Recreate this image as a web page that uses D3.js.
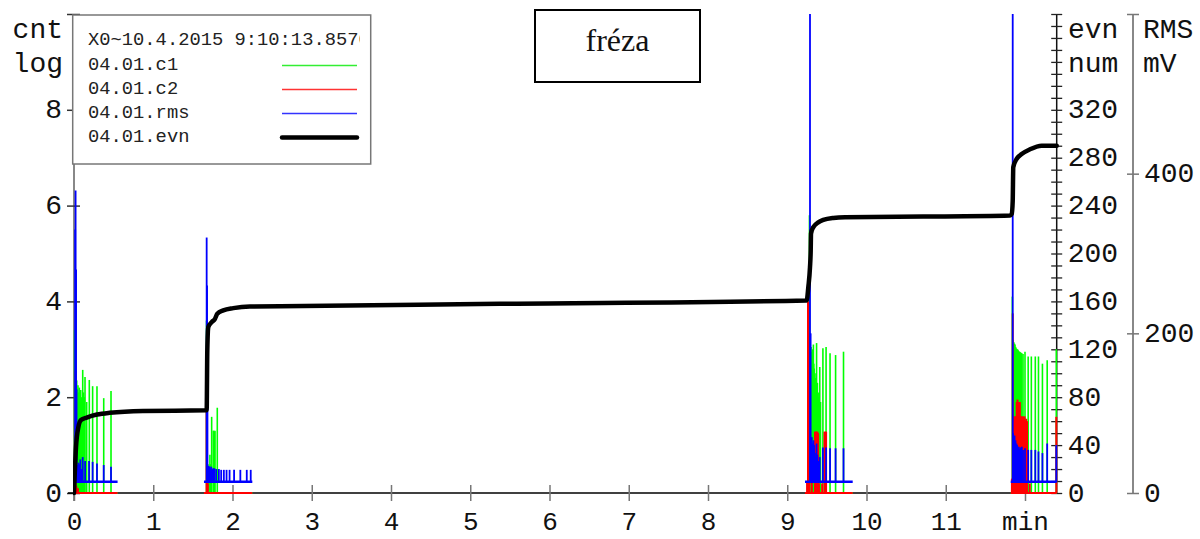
<!DOCTYPE html>
<html>
<head>
<meta charset="utf-8">
<script src="https://cdn.jsdelivr.net/npm/d3@7"></script>
<style>
  body { margin: 0; background: #fff; }
  svg { display: block; }
</style>
</head>
<body>
<svg id="chart" width="1200" height="539"></svg>
<script>
// ---- axis ticks ----
const timeTicks = [0, 1, 2, 3, 4, 5, 6, 7, 8, 9, 10, 11, 12];
const timeTickLabels = ["0", "1", "2", "3", "4", "5", "6", "7", "8", "9", "10", "11", "min"];
const cntTicks = [0, 2, 4, 6, 8, 10];
const evnTicks = [0, 40, 80, 120, 160, 200, 240, 280, 320];
const rmsTicks = [0, 200, 400, 600];

// ---- legend ----
const legendHeader = "X0~10.4.2015 9:10:13.8570";
const seriesNames = ["04.01.c1", "04.01.c2", "04.01.rms", "04.01.evn"];
const titleText = "fréza";

// ---- recording windows [start, end] in minutes ----
const bursts = [[0, 0.55], [1.64, 2.25], [9.224, 9.826], [11.82, 12.4]];
const rmsFloor = 14; // mV between events

// ---- c1 event counts (log) : [minute, value] ----
const c1Spikes = [
  [0.008, 3.4], [0.018, 2.3], [0.026, 2.2], [0.034, 2.35], [0.042, 2.15], [0.05, 2.25],
  [0.058, 2.1], [0.067, 2.2], [0.076, 2.05], [0.085, 2.15], [0.095, 2.0], [0.11, 2.57],
  [0.12, 2.1], [0.13, 2.0], [0.139, 2.42], [0.16, 1.9], [0.193, 2.36], [0.235, 2.23],
  [0.29, 2.23], [0.375, 1.98], [0.467, 2.13],
  [1.672, 3.6], [1.69, 0.6], [1.70, 0.5], [1.715, 0.8], [1.725, 0.6], [1.737, 1.59],
  [1.758, 1.3], [1.765, 1.3], [1.772, 1.28], [1.779, 1.3], [1.808, 1.78],
  [9.28, 5.8], [9.30, 3.05], [9.305, 2.9], [9.31, 2.95], [9.315, 2.8], [9.32, 3.0],
  [9.33, 3.1], [9.335, 2.7], [9.34, 2.6], [9.35, 2.5], [9.36, 2.4], [9.37, 3.13],
  [9.38, 2.3], [9.39, 2.1], [9.40, 2.0], [9.41, 2.63], [9.42, 1.9], [9.45, 3.02],
  [9.49, 3.05], [9.54, 2.92], [9.61, 2.88], [9.71, 2.95],
  [11.84, 4.1], [11.85, 3.2], [11.858, 3.15], [11.866, 3.12], [11.874, 3.1], [11.882, 3.05],
  [11.89, 3.02], [11.898, 3.0], [11.906, 3.0], [11.914, 2.98], [11.922, 2.96], [11.93, 2.95],
  [11.94, 2.94], [11.95, 2.93], [11.96, 2.92], [11.975, 2.9], [12.0, 2.95], [12.04, 2.85],
  [12.08, 2.85], [12.13, 2.85], [12.17, 2.85], [12.22, 2.7], [12.28, 2.77], [12.395, 3.0]
];

// ---- c2 event counts (log) ----
const c2Spikes = [
  [0.02, 2.55], [0.03, 0.15], [0.05, 0.1],
  [1.673, 2.84], [1.678, 0.2], [1.683, 0.2], [1.688, 0.2],
  [9.25, 0.25], [9.262, 4.0], [9.28, 0.25], [9.31, 0.25], [9.35, 1.28], [9.36, 1.28],
  [9.37, 1.28], [9.38, 1.28], [9.39, 1.25], [9.40, 0.2], [9.44, 0.2], [9.47, 1.28],
  [9.48, 1.28], [9.49, 1.28],
  [11.835, 0.3], [11.845, 3.75], [11.855, 1.6], [11.865, 1.55], [11.875, 1.6], [11.885, 1.6],
  [11.895, 1.9], [11.905, 1.95], [11.915, 1.9], [11.925, 1.85], [11.935, 1.9], [11.945, 1.6],
  [11.955, 1.6], [11.965, 1.55], [11.975, 1.6], [11.985, 1.55], [11.995, 1.6], [12.005, 1.5],
  [12.015, 1.55], [12.025, 1.5], [12.06, 0.2], [12.395, 1.59]
];

// ---- RMS level (mV) ----
const rmsSpikes = [
  [0.015, 330], [0.02, 379], [0.026, 280], [0.032, 130], [0.038, 28], [0.044, 35],
  [0.05, 30], [0.056, 38], [0.062, 32], [0.068, 36], [0.08, 42], [0.09, 30], [0.11, 45],
  [0.14, 40], [0.19, 40], [0.235, 39], [0.29, 37], [0.375, 35], [0.467, 33],
  [1.674, 320], [1.679, 260], [1.684, 120], [1.69, 32], [1.698, 34], [1.705, 30],
  [1.712, 33], [1.72, 31], [1.732, 33], [1.745, 30], [1.757, 31], [1.77, 31], [1.794, 30],
  [1.828, 30], [1.857, 29], [1.891, 29], [1.925, 29], [1.963, 29], [2.02, 29], [2.099, 29],
  [2.18, 29], [2.23, 29],
  [9.287, 640], [9.295, 200], [9.30, 66], [9.305, 55], [9.31, 70], [9.315, 50], [9.32, 62],
  [9.325, 48], [9.33, 66], [9.335, 45], [9.34, 60], [9.35, 50], [9.36, 45], [9.37, 62],
  [9.38, 48], [9.39, 40], [9.41, 45], [9.45, 57], [9.49, 57], [9.54, 56], [9.61, 56], [9.71, 56],
  [11.845, 640], [11.85, 75], [11.856, 70], [11.862, 66], [11.868, 72], [11.874, 62],
  [11.88, 66], [11.886, 58], [11.892, 62], [11.9, 60], [11.91, 57], [11.92, 58], [11.93, 55],
  [11.94, 57], [11.95, 55], [11.96, 58], [11.975, 54], [12.0, 56], [12.04, 54], [12.08, 54],
  [12.13, 54], [12.17, 52], [12.22, 50], [12.28, 62], [12.395, 60]
];

// ---- cumulative event number ----
const evnTime = [0, 0.025, 0.055, 0.088, 0.16, 0.29, 0.45, 0.87, 1.674, 1.682, 1.695, 1.738,
  1.779, 1.808, 1.884, 2.01, 2.22, 2.6, 5.375, 9.245, 9.266, 9.287, 9.296, 9.30, 9.329,
  9.392, 9.455, 9.581, 9.729, 10.716, 11.811, 11.832, 11.845, 11.852, 11.895, 11.958,
  12.063, 12.21, 12.4];
const evnCount = [0, 38, 55, 61, 63, 65.5, 67, 68.5, 69, 119, 138.6, 142.7,
  145.5, 149.7, 152.5, 154.4, 155.8, 156, 158, 160.8, 172, 188.6, 202.5, 216.7, 222,
  226, 228, 229.7, 230.3, 230.8, 231.7, 233, 244, 272, 279, 283,
  287, 290, 290];

// ---- colours ----
const colC1 = "#00ff00", colC2 = "#ff0000", colRms = "#0000ff", colEvn = "#000000";

// ---- scales ----
const x = d3.scaleLinear().domain([0, 12]).range([74, 1025]);
const yCnt = d3.scaleLinear().domain([0, 10]).range([493, 14]);
const yEvn = d3.scaleLinear().domain([0, 400]).range([493, 14]);
const yRms = d3.scaleLinear().domain([0, 600]).range([493, 14]);

const MONO = "'Liberation Mono','Courier New',monospace";
const SERIF = "'Liberation Serif','Times New Roman',serif";
const svg = d3.select("#chart");
const defs = svg.append("defs");

function styleText(g, size) {
  g.selectAll(".tick text")
    .attr("font-family", MONO).attr("font-size", size).attr("fill", "#111");
}

// ---- left axis: cnt log ----
svg.append("line").attr("x1", 74).attr("x2", 74).attr("y1", 14).attr("y2", 501)
  .attr("stroke", "#888").attr("stroke-width", 2);
svg.append("g").attr("transform", "translate(74,0)")
  .call(d3.axisLeft(yCnt).tickValues(cntTicks).tickFormat(d => d === 10 ? "" : String(d)).tickSizeOuter(0))
  .call(g => {
    g.select(".domain").remove();
    g.selectAll(".tick line").attr("x1", 6).attr("x2", -7).attr("stroke", "#333").attr("stroke-width", 1.5);
    g.selectAll(".tick text").attr("x", -12).attr("dy", "0.29em");
    styleText(g, 28);
  });
svg.append("text").attr("x", 63).attr("y", 38).attr("text-anchor", "end")
  .attr("font-family", MONO).attr("font-size", 28).attr("fill", "#111").text("cnt");
svg.append("text").attr("x", 63).attr("y", 72).attr("text-anchor", "end")
  .attr("font-family", MONO).attr("font-size", 28).attr("fill", "#111").text("log");

// ---- bottom axis: minutes ----
svg.append("line").attr("x1", 68).attr("x2", 1057).attr("y1", 493).attr("y2", 493)
  .attr("stroke", "#000").attr("stroke-width", 1.5);
svg.append("g").attr("transform", "translate(0,493)")
  .call(d3.axisBottom(x).tickValues(timeTicks).tickFormat((d, i) => timeTickLabels[i]).tickSizeOuter(0))
  .call(g => {
    g.select(".domain").remove();
    g.selectAll(".tick line").attr("y1", -8).attr("y2", 8).attr("stroke", "#777").attr("stroke-width", 1.5);
    g.selectAll(".tick text").attr("y", 37).attr("dy", null);
    styleText(g, 26);
  });

// ---- right axis: event number ----
svg.append("line").attr("x1", 1056.7).attr("x2", 1056.7).attr("y1", 14).attr("y2", 493)
  .attr("stroke", "#111").attr("stroke-width", 1.5);
svg.append("g").attr("transform", "translate(1056.7,0)")
  .call(d3.axisRight(yEvn).tickValues(yEvn.ticks(40))
    .tickFormat(d => evnTicks.includes(d) ? String(d) : "").tickSizeOuter(0))
  .call(g => {
    g.select(".domain").remove();
    g.selectAll(".tick line").attr("x1", -5.5).attr("x2", 5.5).attr("stroke", "#222").attr("stroke-width", 1.3);
    g.selectAll(".tick text").attr("x", 11).attr("dy", "0.29em");
    styleText(g, 28);
  });
svg.append("text").attr("x", 1068).attr("y", 38)
  .attr("font-family", MONO).attr("font-size", 28).attr("fill", "#111").text("evn");
svg.append("text").attr("x", 1068).attr("y", 72)
  .attr("font-family", MONO).attr("font-size", 28).attr("fill", "#111").text("num");

// ---- far right axis: RMS mV ----
svg.append("line").attr("x1", 1133).attr("x2", 1133).attr("y1", 14).attr("y2", 493)
  .attr("stroke", "#888").attr("stroke-width", 2);
svg.append("g").attr("transform", "translate(1133,0)")
  .call(d3.axisRight(yRms).tickValues(rmsTicks).tickFormat(d => d === 600 ? "" : String(d)).tickSizeOuter(0))
  .call(g => {
    g.select(".domain").remove();
    g.selectAll(".tick line").attr("x1", -6).attr("x2", 6).attr("stroke", "#777").attr("stroke-width", 1.5);
    g.selectAll(".tick text").attr("x", 11).attr("dy", "0.29em");
    styleText(g, 28);
  });
svg.append("text").attr("x", 1143).attr("y", 38)
  .attr("font-family", MONO).attr("font-size", 28).attr("fill", "#111").text("RMS");
svg.append("text").attr("x", 1143).attr("y", 72)
  .attr("font-family", MONO).attr("font-size", 28).attr("fill", "#111").text("mV");

// ---- plot area ----
defs.append("clipPath").attr("id", "plotClip")
  .append("rect").attr("x", 73).attr("y", 14).attr("width", 988).attr("height", 488);
const plot = svg.append("g").attr("clip-path", "url(#plotClip)");

function drawSeries(spikes, yScale, base, color, stemW, baseW) {
  const g = plot.append("g");
  g.selectAll("line.base").data(bursts).join("line").attr("class", "base")
    .attr("x1", d => x(d[0])).attr("x2", d => x(d[1]))
    .attr("y1", yScale(base)).attr("y2", yScale(base))
    .attr("stroke", color).attr("stroke-width", baseW);
  g.selectAll("line.stem").data(spikes).join("line").attr("class", "stem")
    .attr("x1", d => x(d[0])).attr("x2", d => x(d[0]))
    .attr("y1", yScale(base)).attr("y2", d => yScale(d[1]))
    .attr("stroke", color).attr("stroke-width", stemW);
}

drawSeries(c1Spikes, yCnt, 0, colC1, 1.6, 2);
drawSeries(c2Spikes, yCnt, 0, colC2, 2, 2.2);
drawSeries(rmsSpikes, yRms, rmsFloor, colRms, 1.8, 2.6);

const evnData = evnTime.map((t, i) => [t, evnCount[i]]);
plot.append("path").datum(evnData)
  .attr("d", d3.line().x(d => x(d[0])).y(d => yEvn(d[1])).curve(d3.curveMonotoneX))
  .attr("fill", "none").attr("stroke", colEvn).attr("stroke-width", 4.5)
  .attr("stroke-linejoin", "round").attr("stroke-linecap", "round");

// ---- legend ----
const legend = svg.append("g");
legend.append("rect").attr("x", 72.7).attr("y", 15).attr("width", 298).attr("height", 149)
  .attr("fill", "#fff").attr("stroke", "#777").attr("stroke-width", 1.5);
defs.append("clipPath").attr("id", "legendClip")
  .append("rect").attr("x", 74).attr("y", 16).attr("width", 286).attr("height", 146);
legend.append("text").attr("clip-path", "url(#legendClip)")
  .attr("x", 88).attr("y", 45).attr("font-family", MONO).attr("font-size", 18.8)
  .attr("fill", "#222").text(legendHeader);
const legendColors = ["#33ee33", "#ff3333", "#3333ff", colEvn];
const legendWidths = [1.5, 1.5, 1.5, 4.5];
const rowY = d3.scaleLinear().domain([0, 3]).range([70, 142]);
seriesNames.forEach((name, i) => {
  legend.append("text").attr("x", 88).attr("y", rowY(i))
    .attr("font-family", MONO).attr("font-size", 18.8).attr("fill", "#222").text(name);
  legend.append("line").attr("x1", 282).attr("x2", 357)
    .attr("y1", Math.round(rowY(i) - 5) + 0.5).attr("y2", Math.round(rowY(i) - 5) + 0.5)
    .attr("stroke", legendColors[i]).attr("stroke-width", legendWidths[i])
    .attr("stroke-linecap", i === 3 ? "round" : "butt");
});

// ---- title box ----
svg.append("rect").attr("x", 535).attr("y", 10).attr("width", 165).attr("height", 72)
  .attr("fill", "#fff").attr("stroke", "#000").attr("stroke-width", 2);
svg.append("text").attr("x", 617.5).attr("y", 51).attr("text-anchor", "middle")
  .attr("font-family", SERIF).attr("font-size", 32).attr("fill", "#111").text(titleText);
</script>
</body>
</html>
